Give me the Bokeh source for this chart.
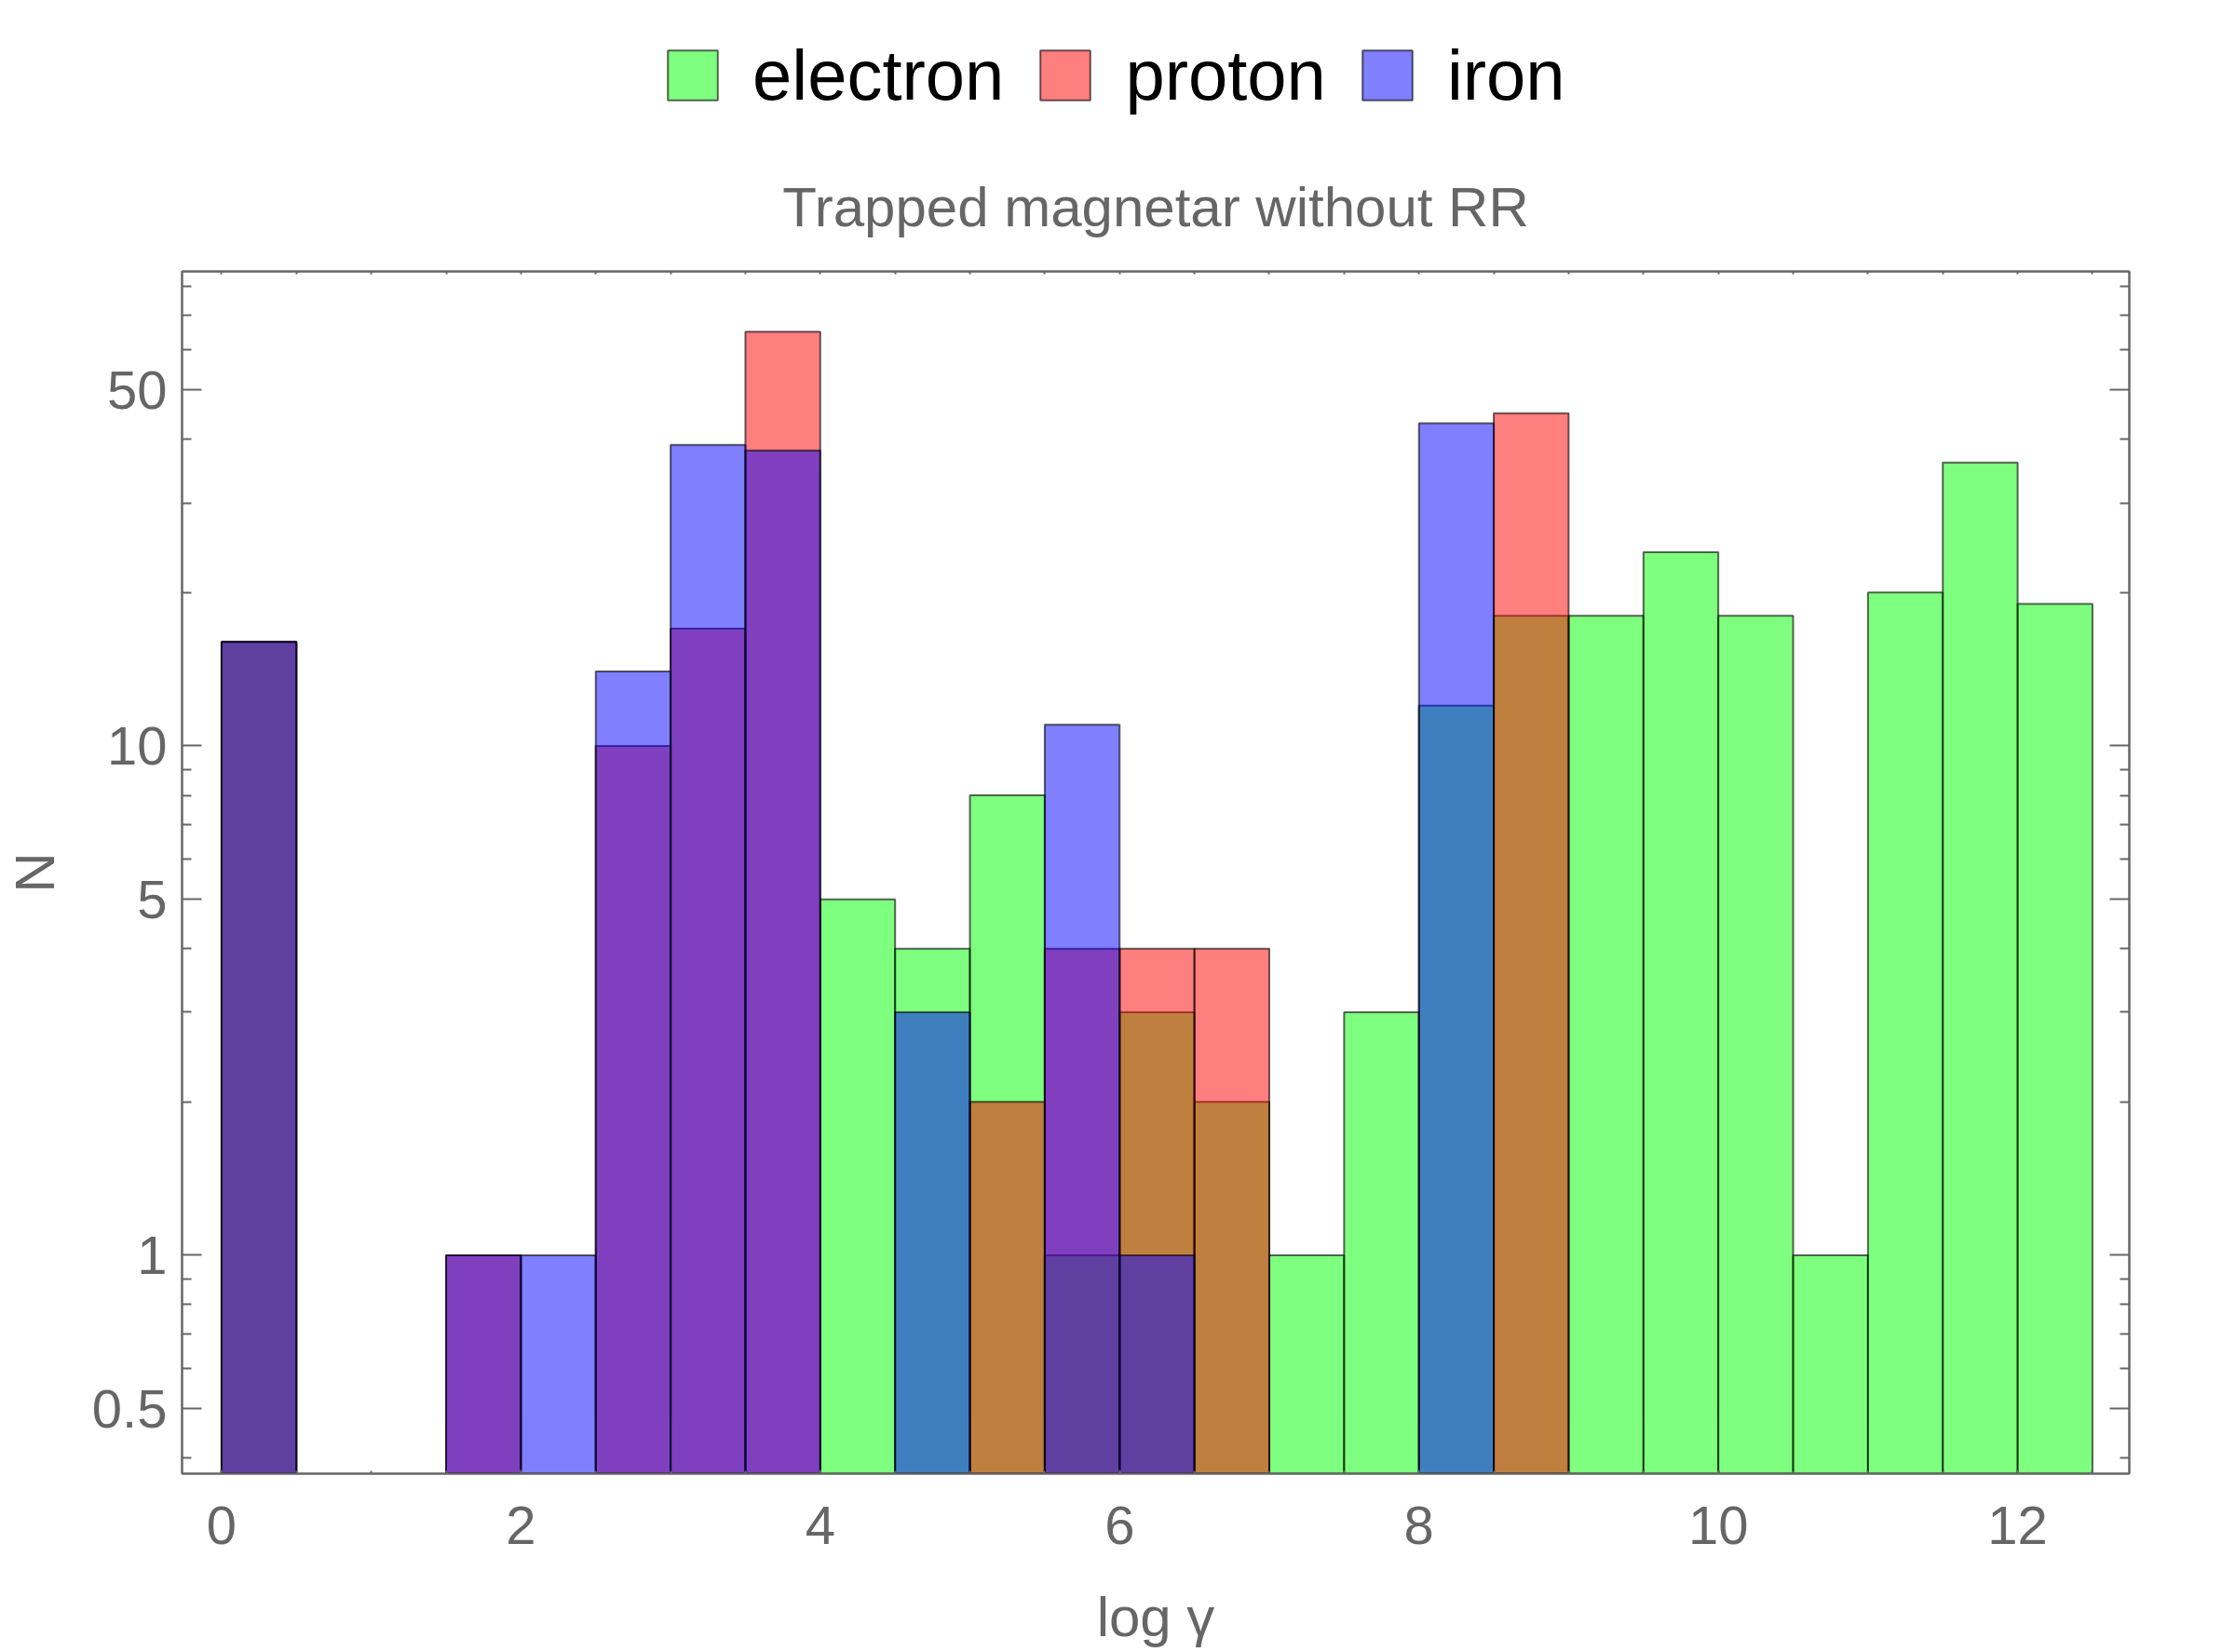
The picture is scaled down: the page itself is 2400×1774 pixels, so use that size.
import numpy as np
from bokeh.plotting import figure
from bokeh.layouts import column
from bokeh.models import (Range1d, FixedTicker, LinearAxis, LogAxis, NumeralTickFormatter,
                          Legend, LegendItem, Title, CustomJSTickFormatter, ColumnDataSource)
from bokeh.embed import file_html
from bokeh.resources import INLINE

# ---------------- data ----------------
bin_left = [0.0, 0.5, 1.0, 1.5, 2.0, 2.5, 3.0, 3.5, 4.0, 4.5, 5.0, 5.5, 6.0,
            6.5, 7.0, 7.5, 8.0, 8.5, 9.0, 9.5, 10.0, 10.5, 11.0, 11.5, 12.0]
bin_width = 0.5
electron = [16, 0, 0, 0, 0, 0, 0, 0, 5, 4, 8, 1, 3,
            2, 1, 3, 12, 18, 18, 24, 18, 1, 20, 36, 19]
proton = [16, 0, 0, 1, 0, 10, 17, 65, 0, 0, 2, 4, 4,
          4, 0, 0, 0, 45, 0, 0, 0, 0, 0, 0, 0]
iron = [16, 0, 0, 1, 1, 14, 39, 38, 0, 3, 0, 11, 1,
        0, 0, 0, 43, 0, 0, 0, 0, 0, 0, 0, 0]
series_names = ["electron", "proton", "iron"]
series_colors = ["#00ff00", "#ff0000", "#0000ff"]

x_ticks = [0, 2, 4, 6, 8, 10, 12]
x_minor = [i * 0.5 for i in range(0, 26)]
y_ticks = [0.5, 1, 5, 10, 50]
y_minor = [0.4, 0.6, 0.7, 0.8, 0.9, 2, 3, 4, 6, 7, 8, 9, 20, 30, 40, 60, 70, 80]

title_text = "Trapped magnetar without RR"
x_label = "log γ"
y_label = "N"

FONT = "Liberation Sans"
GRAY = "#666666"

y_lo, y_hi = 0.3726, 85.4
LEG_H = 148

bar_style = dict(fill_alpha=0.5, line_color="black", line_alpha=0.6, line_width=2)

# ---------------- main plot ----------------
p = figure(width=2400, height=1774 - LEG_H, y_axis_type="log",
           x_range=Range1d(-0.264, 12.746), y_range=Range1d(y_lo, y_hi),
           output_backend="svg", toolbar_location=None,
           min_border_left=195, min_border_right=114,
           min_border_top=291 - LEG_H, min_border_bottom=192)
p.xgrid.visible = False
p.ygrid.visible = False
p.outline_line_color = GRAY
p.outline_line_width = 2
p.background_fill_color = "white"
p.border_fill_color = "white"

for name, vals, col in zip(series_names, [electron, proton, iron], series_colors):
    xs = [l + bin_width / 2 for l, v in zip(bin_left, vals) if v > 0]
    tops = [v for v in vals if v > 0]
    src = ColumnDataSource(dict(x=xs, top=tops, bottom=[y_lo] * len(xs)))
    p.vbar(x="x", width=bin_width, top="top", bottom="bottom", source=src,
           fill_color=col, **bar_style)

# bottom axis
xa = p.xaxis[0]
xa.ticker = FixedTicker(ticks=x_ticks, minor_ticks=x_minor)
xa.major_tick_in = 4
xa.major_tick_out = 0
xa.minor_tick_in = 3
xa.minor_tick_out = 0
xa.axis_line_color = GRAY
xa.axis_line_width = 2
xa.major_tick_line_color = GRAY
xa.minor_tick_line_color = GRAY
xa.major_tick_line_width = 2
xa.minor_tick_line_width = 2
xa.major_label_text_font = FONT
xa.major_label_text_font_size = "58px"
xa.major_label_text_color = GRAY
xa.major_label_standoff = 35
xa.axis_label = x_label
xa.axis_label_text_font = FONT
xa.axis_label_text_font_size = "60px"
xa.axis_label_text_font_style = "normal"
xa.axis_label_text_color = GRAY
xa.axis_label_standoff = 42

# left axis
ya = p.yaxis[0]
ya.ticker = FixedTicker(ticks=y_ticks, minor_ticks=y_minor)
ya.formatter = NumeralTickFormatter(format="0.[0]")
ya.major_tick_in = 21
ya.major_tick_out = 0
ya.minor_tick_in = 10
ya.minor_tick_out = 0
ya.axis_line_color = GRAY
ya.axis_line_width = 2
ya.major_tick_line_color = GRAY
ya.minor_tick_line_color = GRAY
ya.major_tick_line_width = 2
ya.minor_tick_line_width = 2
ya.major_label_text_font = FONT
ya.major_label_text_font_size = "58px"
ya.major_label_text_color = GRAY
ya.major_label_standoff = 16
ya.axis_label = y_label
ya.axis_label_text_font = FONT
ya.axis_label_text_font_size = "60px"
ya.axis_label_text_font_style = "normal"
ya.axis_label_text_color = GRAY
ya.axis_label_standoff = 25

# mirrored frame ticks (right and top)
ra = LogAxis(ticker=FixedTicker(ticks=y_ticks, minor_ticks=y_minor),
             formatter=CustomJSTickFormatter(code="return ''"),
             major_tick_in=21, major_tick_out=0, minor_tick_in=10, minor_tick_out=0,
             axis_line_color=GRAY, axis_line_width=2,
             major_tick_line_color=GRAY, minor_tick_line_color=GRAY,
             major_tick_line_width=2, minor_tick_line_width=2,
             major_label_text_font_size="0px", major_label_standoff=0)
p.add_layout(ra, "right")
ta = LinearAxis(ticker=FixedTicker(ticks=x_minor, minor_ticks=[]),
                formatter=CustomJSTickFormatter(code="return ''"),
                major_tick_in=3, major_tick_out=0,
                axis_line_color=GRAY, axis_line_width=2,
                major_tick_line_color=GRAY, major_tick_line_width=2,
                major_label_text_font_size="0px", major_label_standoff=0)
p.add_layout(ta, "above")

t = Title(text=title_text, align="center", text_font=FONT, text_font_size="60px",
          text_color=GRAY, text_font_style="normal", standoff=71)
p.add_layout(t, "above")

# ---------------- legend strip ----------------
lf = figure(width=2400, height=LEG_H, x_range=Range1d(0, 1), y_range=Range1d(0, 1),
            output_backend="svg", toolbar_location=None,
            x_axis_location=None, y_axis_location=None,
            min_border_left=0, min_border_right=0, min_border_top=0, min_border_bottom=0)
lf.xgrid.visible = False
lf.ygrid.visible = False
lf.outline_line_color = None
lf.background_fill_color = "white"
lf.border_fill_color = "white"

legend_items = []
for name, col in zip(series_names, series_colors):
    # swatch-only renderer: a degenerate (zero-size) bar that draws nothing itself
    r = lf.vbar(x=[0.5], top=[0.5], bottom=[0.5], width=0, fill_color=col, **bar_style)
    legend_items.append(LegendItem(label=name, renderers=[r]))

legend = Legend(items=legend_items, orientation="horizontal", location=(515, 24),
                glyph_width=67, glyph_height=67, label_standoff=31, spacing=32,
                label_text_font=FONT, label_text_font_size="76px", label_text_color="black",
                padding=0, margin=0, border_line_color=None, background_fill_alpha=0)
lf.add_layout(legend, "center")

layout = column(lf, p, spacing=0)
open("out.html", "w").write(file_html(layout, INLINE))
